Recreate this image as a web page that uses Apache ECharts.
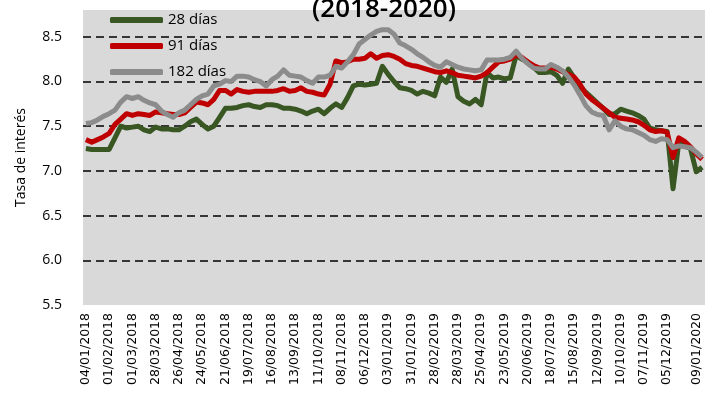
<!DOCTYPE html>
<html lang="es">

<head>
  <meta charset="UTF-8">
  <title>Tasa de interés (2018-2020)</title>
  <script src="https://cdn.jsdelivr.net/npm/echarts@6.0.0/dist/echarts.min.js"></script>
  <style>
    body { margin: 0; background: #fff; }
    #main { width: 705px; height: 400px; }
  </style>
</head>

<body>
  <div id="main"></div>
  <script type="text/javascript">
    // fechas semanales (subastas)
    var fechas = [
      '04/01/2018', '11/01/2018', '18/01/2018', '25/01/2018', '01/02/2018', '08/02/2018', '15/02/2018', '22/02/2018',
      '01/03/2018', '08/03/2018', '15/03/2018', '22/03/2018', '28/03/2018', '05/04/2018', '12/04/2018', '19/04/2018',
      '26/04/2018', '03/05/2018', '10/05/2018', '17/05/2018', '24/05/2018', '31/05/2018', '07/06/2018', '14/06/2018',
      '21/06/2018', '28/06/2018', '05/07/2018', '12/07/2018', '19/07/2018', '26/07/2018', '02/08/2018', '09/08/2018',
      '16/08/2018', '23/08/2018', '30/08/2018', '06/09/2018', '13/09/2018', '20/09/2018', '27/09/2018', '04/10/2018',
      '11/10/2018', '18/10/2018', '25/10/2018', '01/11/2018', '08/11/2018', '15/11/2018', '22/11/2018', '29/11/2018',
      '06/12/2018', '13/12/2018', '20/12/2018', '27/12/2018', '03/01/2019', '10/01/2019', '17/01/2019', '24/01/2019',
      '31/01/2019', '07/02/2019', '14/02/2019', '21/02/2019', '28/02/2019', '07/03/2019', '14/03/2019', '21/03/2019',
      '28/03/2019', '04/04/2019', '11/04/2019', '18/04/2019', '25/04/2019', '02/05/2019', '09/05/2019', '16/05/2019',
      '23/05/2019', '30/05/2019', '06/06/2019', '13/06/2019', '20/06/2019', '27/06/2019', '04/07/2019', '11/07/2019',
      '18/07/2019', '25/07/2019', '01/08/2019', '08/08/2019', '15/08/2019', '22/08/2019', '29/08/2019', '05/09/2019',
      '12/09/2019', '19/09/2019', '26/09/2019', '03/10/2019', '10/10/2019', '17/10/2019', '24/10/2019', '31/10/2019',
      '07/11/2019', '14/11/2019', '21/11/2019', '28/11/2019', '05/12/2019', '12/12/2019', '19/12/2019', '26/12/2019',
      '02/01/2020', '09/01/2020', '16/01/2020'
    ];

    // etiquetas visibles del eje x
    var etiquetas = [
      '04/01/2018', '01/02/2018', '01/03/2018', '28/03/2018', '26/04/2018', '24/05/2018', '21/06/2018',
      '19/07/2018', '16/08/2018', '13/09/2018', '11/10/2018', '08/11/2018', '06/12/2018', '03/01/2019',
      '31/01/2019', '28/02/2019', '28/03/2019', '25/04/2019', '23/05/2019', '20/06/2019', '18/07/2019',
      '15/08/2019', '12/09/2019', '10/10/2019', '07/11/2019', '05/12/2019', '09/01/2020'
    ];

    var dias28 = [
      7.25, 7.24, 7.24, 7.24, 7.24, 7.37, 7.50, 7.48, 7.49, 7.50, 7.46, 7.44, 7.49, 7.47, 7.47, 7.46,
      7.46, 7.50, 7.55, 7.58, 7.52, 7.47, 7.50, 7.60, 7.70, 7.70, 7.71, 7.73, 7.74, 7.72, 7.71, 7.74,
      7.74, 7.73, 7.70, 7.70, 7.69, 7.67, 7.64, 7.67, 7.69, 7.64, 7.70, 7.75, 7.71, 7.82, 7.95, 7.97,
      7.96, 7.97, 7.98, 8.17, 8.08, 8.00, 7.93, 7.92, 7.90, 7.86, 7.89, 7.87, 7.84, 8.05, 7.99, 8.14,
      7.83, 7.78, 7.75, 7.80, 7.74, 8.10, 8.04, 8.05, 8.03, 8.04, 8.29, 8.25, 8.22, 8.16, 8.10, 8.10,
      8.11, 8.07, 7.98, 8.14, 8.04, 7.94, 7.88, 7.82, 7.76, 7.70, 7.63, 7.64, 7.69, 7.67, 7.65, 7.62,
      7.58, 7.48, 7.46, 7.45, 7.44, 6.80, 7.32, 7.28, 7.25, 6.99, 7.04
    ];

    var dias91 = [
      7.35, 7.32, 7.35, 7.38, 7.42, 7.52, 7.58, 7.64, 7.62, 7.64, 7.63, 7.62, 7.66, 7.65, 7.64, 7.63,
      7.63, 7.65, 7.71, 7.77, 7.76, 7.74, 7.80, 7.90, 7.90, 7.86, 7.91, 7.89, 7.88, 7.89, 7.89, 7.89,
      7.89, 7.90, 7.92, 7.89, 7.90, 7.93, 7.89, 7.88, 7.86, 7.85, 7.97, 8.23, 8.21, 8.22, 8.25, 8.25,
      8.26, 8.31, 8.26, 8.29, 8.30, 8.28, 8.25, 8.20, 8.18, 8.17, 8.15, 8.13, 8.11, 8.10, 8.12, 8.10,
      8.07, 8.06, 8.05, 8.04, 8.06, 8.10, 8.16, 8.22, 8.23, 8.25, 8.30, 8.27, 8.22, 8.18, 8.15, 8.15,
      8.16, 8.14, 8.11, 8.08, 8.05, 7.97, 7.86, 7.80, 7.75, 7.70, 7.65, 7.60, 7.59, 7.58, 7.57, 7.55,
      7.51, 7.46, 7.44, 7.45, 7.43, 7.15, 7.37, 7.33, 7.27, 7.19, 7.13
    ];

    var dias182 = [
      7.53, 7.54, 7.57, 7.61, 7.64, 7.68, 7.77, 7.83, 7.81, 7.83, 7.79, 7.76, 7.74, 7.67, 7.63, 7.60,
      7.65, 7.68, 7.74, 7.80, 7.84, 7.86, 7.95, 7.97, 8.01, 8.00, 8.06, 8.06, 8.05, 8.02, 8.00, 7.95,
      8.02, 8.06, 8.13, 8.07, 8.06, 8.05, 8.01, 7.98, 8.05, 8.05, 8.07, 8.17, 8.15, 8.22, 8.30, 8.42,
      8.47, 8.52, 8.56, 8.58, 8.58, 8.53, 8.43, 8.40, 8.36, 8.31, 8.27, 8.22, 8.18, 8.16, 8.22, 8.19,
      8.16, 8.14, 8.13, 8.12, 8.13, 8.24, 8.24, 8.24, 8.25, 8.27, 8.34, 8.26, 8.20, 8.15, 8.14, 8.14,
      8.19, 8.16, 8.12, 8.05, 7.96, 7.85, 7.73, 7.66, 7.63, 7.62, 7.46, 7.56, 7.50, 7.47, 7.46, 7.43,
      7.40, 7.35, 7.33, 7.36, 7.35, 7.26, 7.28, 7.27, 7.26, 7.21, 7.15
    ];

    var myChart = echarts.init(document.getElementById('main'), null, { renderer: 'canvas' });

    var fuente = '"Open Sans", sans-serif';

    var option = {
      animation: false,
      title: {
        text: '(2018-2020)',
        left: 379,
        textAlign: 'center',
        top: -8,
        textStyle: { fontFamily: fuente, fontSize: 26, fontWeight: 600, color: '#000', lineHeight: 26 }
      },
      legend: {
        orient: 'vertical',
        left: 110,
        top: 10,
        padding: 0,
        itemGap: 6,
        itemWidth: 53,
        itemHeight: 6,
        icon: 'roundRect',
        textStyle: { fontFamily: fuente, fontSize: 15, color: '#000', lineHeight: 20 },
        data: ['28 días', '91 días', '182 días']
      },
      grid: {
        left: 83,
        right: 0,
        top: 10,
        bottom: 95,
        show: true,
        backgroundColor: '#d9d9d9',
        borderWidth: 0
      },
      xAxis: {
        type: 'category',
        data: fechas,
        boundaryGap: true,
        axisLine: { show: false },
        axisTick: { show: false },
        axisLabel: {
          rotate: 90,
          margin: 8,
          fontFamily: '"DejaVu Sans", sans-serif',
          fontSize: 12.5,
          color: '#000',
          interval: function (idx, value) {
            return etiquetas.indexOf(value) >= 0;
          }
        }
      },
      yAxis: {
        type: 'value',
        min: 5.5,
        max: 8.8,
        interval: 0.5,
        name: 'Tasa de interés',
        nameLocation: 'middle',
        nameRotate: 90,
        nameGap: 55,
        nameTextStyle: { fontFamily: fuente, fontSize: 14, color: '#000' },
        axisLine: { show: false },
        axisTick: { show: false },
        axisLabel: {
          margin: 21,
          fontFamily: fuente,
          fontSize: 14,
          color: '#000',
          showMaxLabel: false,
          formatter: function (v) { return v.toFixed(1); }
        },
        splitLine: {
          show: true,
          showMinLine: false,
          showMaxLine: false,
          lineStyle: { color: '#000', width: 1.5, type: [8, 5] }
        }
      },
      series: [{
        name: '28 días',
        type: 'line',
        data: dias28,
        showSymbol: false,
        color: '#385723',
        lineStyle: { width: 5, join: 'round' }
      }, {
        name: '91 días',
        type: 'line',
        data: dias91,
        showSymbol: false,
        color: '#c00000',
        lineStyle: { width: 5, join: 'round' }
      }, {
        name: '182 días',
        type: 'line',
        data: dias182,
        showSymbol: false,
        color: '#8c8c8c',
        lineStyle: { width: 5, join: 'round' }
      }]
    };

    myChart.setOption(option);
  </script>
</body>

</html>
